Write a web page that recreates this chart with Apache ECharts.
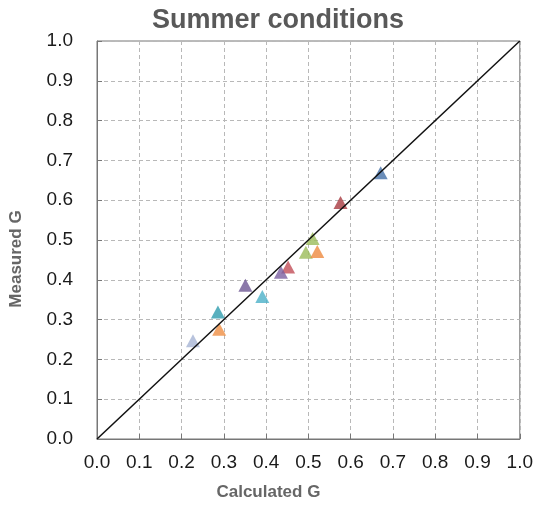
<!DOCTYPE html>
<html>
<head>
<meta charset="utf-8">
<script src="https://cdn.jsdelivr.net/npm/echarts@6/dist/echarts.min.js"></script>
<style>
  html, body { margin: 0; padding: 0; background: #fff; }
  #myChart { width: 536px; height: 506px; }
</style>
</head>
<body>
<div id="myChart"></div>
<script>
// 数据：计算值 / 实测值
const calculatedG = [0.671, 0.576, 0.510, 0.494, 0.521, 0.452, 0.435, 0.351, 0.391, 0.286, 0.289, 0.227];
const measuredG   = [0.669, 0.594, 0.504, 0.469, 0.471, 0.432, 0.419, 0.386, 0.358, 0.319, 0.276, 0.247];
const pointColors = ['#4570a8', '#a83a40', '#9bbb59', '#9bbb59', '#ee8a3e', '#c24d58',
                     '#7b5fa0', '#6e5893', '#4bb0c8', '#2f9cae', '#ef8f44', '#a6b4d4'];
const identityLine = [[0, 0], [1, 1]];
const tickLabels = ['0.0', '0.1', '0.2', '0.3', '0.4', '0.5', '0.6', '0.7', '0.8', '0.9', '1.0'];

let chart = echarts.init(document.getElementById('myChart'));

let points = calculatedG.map((x, i) => ({
  value: [x, measuredG[i]],
  itemStyle: { color: pointColors[i] }
}));

function axisOf(name) {
  return {
    type: 'value',
    min: 0,
    max: 1,
    interval: 0.1,
    name: name,
    nameLocation: 'middle',
    axisLine: { show: true, lineStyle: { color: '#777', width: 1 } },
    axisTick: { show: true, inside: true, length: 5, lineStyle: { color: '#777' } },
    axisLabel: {
      color: '#1a1a1a',
      fontSize: 19,
      fontFamily: 'Liberation Sans',
      formatter: v => tickLabels[Math.round(v * 10)]
    },
    splitLine: { show: true, lineStyle: { color: '#b8b8b8', type: [4, 3], width: 1 } }
  };
}

let xAxis = axisOf('Calculated G');
xAxis.nameGap = 45;
xAxis.axisLabel.margin = 14;
xAxis.nameTextStyle = { color: '#666', fontSize: 17, fontWeight: 'bold', fontFamily: 'Liberation Sans', padding: [0, 80, 0, 0] };

let yAxis = axisOf('Measured G');
yAxis.nameGap = 72;
yAxis.axisLabel.margin = 24;
yAxis.nameTextStyle = { color: '#666', fontSize: 17, fontWeight: 'bold', fontFamily: 'Liberation Sans', padding: [0, 38, 0, 0] };

let option = {
  animation: false,
  title: {
    text: 'Summer conditions',
    left: 273,
    top: 2,
    textAlign: 'center',
    textStyle: { color: '#595959', fontSize: 27, fontWeight: 'bold', fontFamily: 'Liberation Sans' }
  },
  grid: {
    left: 96, right: 15, top: 41, bottom: 65,
    show: true,
    borderColor: '#777',
    borderWidth: 1
  },
  xAxis: xAxis,
  yAxis: yAxis,
  series: [
    {
      type: 'line',
      data: identityLine,
      symbol: 'none',
      lineStyle: { color: '#111', width: 1.5 },
      z: 3
    },
    {
      type: 'scatter',
      data: points,
      symbol: 'triangle',
      symbolSize: [14, 13],
      z: 2
    }
  ]
};
chart.setOption(option);
</script>
</body>
</html>
